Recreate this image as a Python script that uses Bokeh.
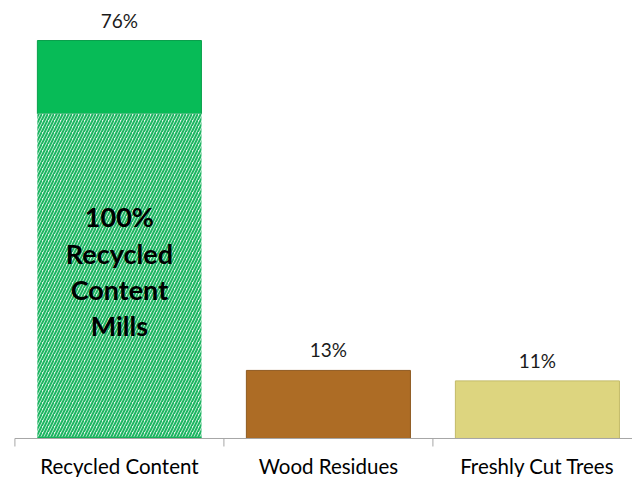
from bokeh.plotting import figure
from bokeh.models import Range1d, ColumnDataSource
from bokeh.core.properties import value
from bokeh.embed import file_html
from bokeh.resources import INLINE

# ---- data ----
categories = ["Recycled Content", "Wood Residues", "Freshly Cut Trees"]
shares = [76, 13, 11]                 # percent of fibre supply
mill_share = 62                       # part of recycled content from 100% recycled content mills (hatched)
value_labels = ["76%", "13%", "11%"]
mill_label = "100%\nRecycled\nContent\nMills"

# ---- styles ----
colors = ["#07BB57", "#AD6C25", "#DDD57F"]
edges = ["#0AA04C", "#8E5A20", "#C2BA68"]
FONT = "Lato"
W, H = 632, 477
Y0, Y1 = -7.45, 83.64
X0, X1 = -0.069, 2.955
ppu = H / (Y1 - Y0)                  # pixels per percentage point

centers = [i + 0.5 for i in range(len(categories))]
bounds = [float(i) for i in range(len(categories) + 1)]

p = figure(width=W, height=H,
           x_range=Range1d(X0, X1), y_range=Range1d(Y0, Y1),
           x_axis_location=None, y_axis_location=None,
           output_backend="svg", toolbar_location=None,
           min_border_left=0, min_border_right=0, min_border_top=0, min_border_bottom=0)
p.outline_line_color = None
p.grid.visible = False
p.background_fill_color = "white"

# main bars (recycled bar: solid part on top of hatched part)
bottoms = [mill_share] + [0] * (len(categories) - 1)
src = ColumnDataSource(dict(x=centers, top=shares, bottom=bottoms, color=colors, edge=edges,
                            label=value_labels, name=categories))
p.vbar(x="x", top="top", bottom="bottom", width=0.785, fill_color="color", line_color="edge",
       line_width=1, source=src)

# hatched part: 100% recycled content mills
hsrc = ColumnDataSource(dict(x=[centers[0]], top=[mill_share], mid=[mill_share / 2], label=[mill_label]))
p.vbar(x="x", top="top", bottom=0, width=0.785, fill_color="#E2F6EA", line_color=None,
       hatch_pattern="right_diagonal_line", hatch_color="#1DB562", hatch_scale=6,
       hatch_weight=2, source=hsrc)
p.segment(x0=centers[0] - 0.3925, x1=centers[0] + 0.3925, y0=0.15, y1=0.15,
          line_color="#12B357", line_width=2)

p.text(x="x", y="mid", text="label", source=hsrc, text_align="center", text_baseline="middle",
       text_font=value(FONT), text_font_style="bold", text_font_size="27px",
       text_line_height=1.1, text_color="#000000", y_offset=-5)

# value labels
p.text(x="x", y="top", text="label", source=src, text_align="center", text_baseline="bottom",
       text_font=value(FONT), text_font_size="19px", text_color="#1a1a1a", y_offset=-9)

# category axis: baseline, boundary ticks, category names
p.segment(x0=bounds[0], x1=bounds[-1], y0=0, y1=0, line_color="#A6A6A6", line_width=1)
p.segment(x0=bounds, x1=bounds, y0=[0] * len(bounds), y1=[-8 / ppu] * len(bounds),
          line_color="#A6A6A6", line_width=1)
p.text(x="x", y=0, text="name", source=src, text_align="center", text_baseline="middle",
       text_font=value(FONT), text_font_size="20.5px", text_color="#000000", y_offset=28)

open("out.html", "w").write(file_html(p, INLINE))
